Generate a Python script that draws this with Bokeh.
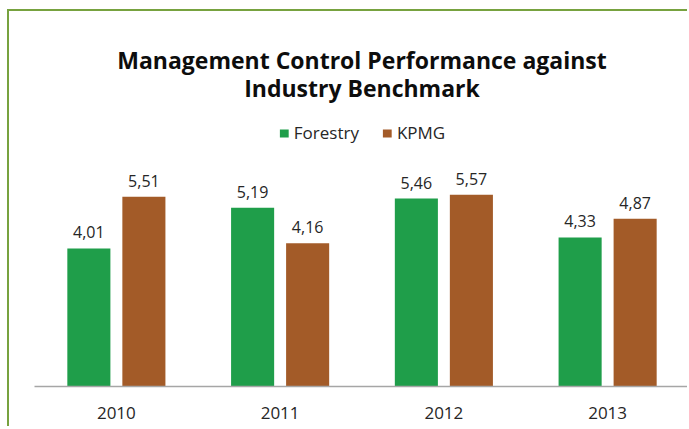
from bokeh.plotting import figure
from bokeh.models import (ColumnDataSource, Legend, LegendItem, Label, FactorRange)
from bokeh.transform import dodge
from bokeh.core.properties import value
from bokeh.embed import file_html
from bokeh.resources import INLINE

years = ["2010", "2011", "2012", "2013"]
forestry = [4.01, 5.19, 5.46, 4.33]
kpmg = [5.51, 4.16, 5.57, 4.87]
series_names = ["Forestry", "KPMG"]
title_lines = ["Management Control Performance against", "Industry Benchmark"]

GREEN = "#1f9e4a"
BROWN = "#a35b28"
FONT = "Open Sans"

# layout: frame spans from the top border (content y=0) down to the baseline
FRAME_H = 375          # px
PX_PER_UNIT = 34.43    # vertical scale
Y_END = FRAME_H / PX_PER_UNIT

src = ColumnDataSource(dict(
    year=years,
    forestry=forestry,
    kpmg=kpmg,
    f_lab=[f"{v:.2f}".replace(".", ",") for v in forestry],
    k_lab=[f"{v:.2f}".replace(".", ",") for v in kpmg],
))

p = figure(x_range=FactorRange(*years, range_padding=0), y_range=(0, Y_END),
           width=680, height=417, output_backend="svg", toolbar_location=None,
           title=None,
           min_border_left=25, min_border_right=0, min_border_top=0,
           min_border_bottom=42)
p.styles = {"margin-left": "7px", "margin-top": "9px",
            "border-top": "2px solid #77a23f", "border-left": "2px solid #77a23f"}

off = 0.168
bw = 0.263
r1 = p.vbar(x=dodge("year", -off, range=p.x_range), top="forestry", width=bw,
            source=src, fill_color=GREEN, line_color=None)
r2 = p.vbar(x=dodge("year", off, range=p.x_range), top="kpmg", width=bw,
            source=src, fill_color=BROWN, line_color=None)

for col, lab in (("forestry", "f_lab"), ("kpmg", "k_lab")):
    p.text(x=dodge("year", -off if col == "forestry" else off, range=p.x_range),
           y=col, text=lab, source=src,
           text_align="center", text_baseline="bottom", y_offset=-10,
           text_font=value(FONT), text_font_size="16px", text_color="#262626")

p.yaxis.visible = False
p.grid.visible = False
p.outline_line_color = None
p.background_fill_color = "white"
p.border_fill_color = "white"

xa = p.xaxis[0]
xa.axis_line_color = "#a6a6a6"
xa.axis_line_width = 1.5
xa.major_tick_line_color = None
xa.minor_tick_line_color = None
xa.major_label_text_font = FONT
xa.major_label_text_font_size = "17px"
xa.major_label_text_color = "#262626"
xa.major_label_standoff = 14

legend = Legend(items=[LegendItem(label=series_names[0], renderers=[r1]),
                       LegendItem(label=series_names[1], renderers=[r2])],
                orientation="horizontal", location="top_center",
                glyph_width=11, glyph_height=10, label_standoff=5, spacing=22,
                padding=0, margin=110, border_line_color=None,
                background_fill_alpha=0,
                label_text_font=FONT, label_text_font_size="17px",
                label_text_color="#262626")
p.add_layout(legend, "center")

# title lines: baselines 48 px and 76 px below the top border
for line, px_down in zip(title_lines, (48, 76)):
    p.add_layout(Label(x=len(years) / 2, y=(FRAME_H - px_down) / PX_PER_UNIT,
                       text=line, text_align="center", text_baseline="alphabetic",
                       text_font=FONT, text_font_size="23px", text_font_style="bold",
                       text_color="#0d0d0d"))

open("out.html", "w").write(file_html(p, INLINE))
